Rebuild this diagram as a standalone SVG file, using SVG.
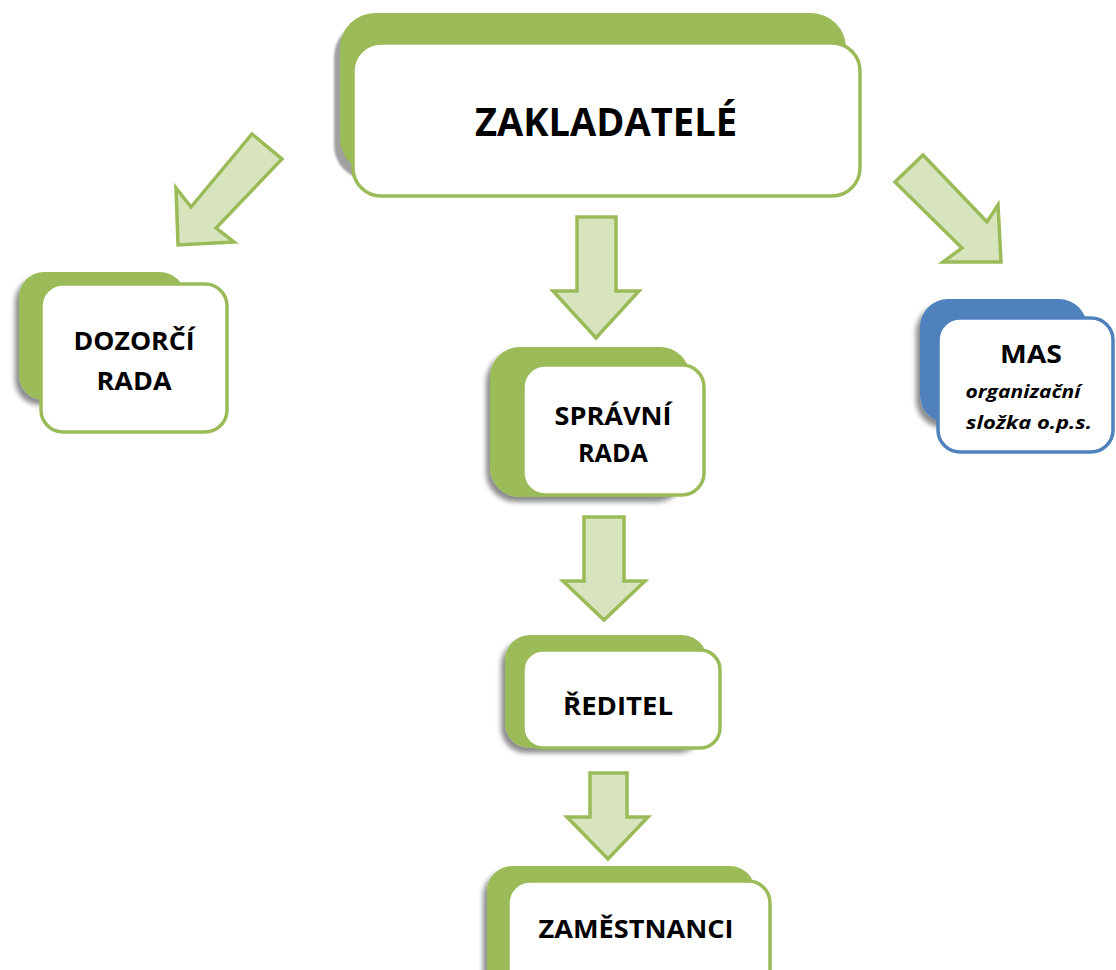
<svg xmlns="http://www.w3.org/2000/svg" width="1116" height="970" viewBox="0 0 1116 970">
<defs>
<filter id="sh" x="-20%" y="-20%" width="140%" height="150%">
<feDropShadow dx="-4" dy="5" stdDeviation="2.5" flood-color="#000" flood-opacity="0.45"/>
</filter>
<filter id="blur" x="-10%" y="-10%" width="120%" height="130%">
<feGaussianBlur stdDeviation="1"/>
</filter>
<style>
.back{fill:#9BBB59;filter:url(#sh)}
.backb{fill:#4F81BD;filter:url(#sh)}
.front{fill:#fff;stroke:#9BBB59;stroke-width:3.5}
.frontb{fill:#fff;stroke:#4F81BD;stroke-width:3.5}
.arrow{fill:#D7E4BD;stroke:#9BBB59;stroke-width:3.5;stroke-linejoin:miter}
.t{font-family:"Open Sans","Noto Sans","DejaVu Sans",sans-serif;font-weight:700;fill:#000}
.ti{font-family:"Open Sans","Noto Sans","DejaVu Sans",sans-serif;font-weight:700;font-style:italic;fill:#000}
</style>
</defs>
<rect width="1116" height="970" fill="#fff"/>
<g id="connectors">
<polygon class="arrow" points="252,134 282,159 216,228 234,242 178,245 176,188 191,207"/>
<polygon class="arrow" points="923,155 987,222 998,205 1001,262 943,262 962,248 895,182"/>
<polygon class="arrow" points="577,217 616,217 616,291 639,291 596,338 553,291 577,291"/>
<polygon class="arrow" points="584,517 624,517 624,581 645,581 604,620 563,581 584,581"/>
<polygon class="arrow" points="590,773 627,773 627,817 648,817 608,859 567,817 590,817"/>
</g>
<g id="zakladatele">
<rect x="334" y="22" width="506" height="158" rx="35" fill="#A0A0A0" filter="url(#blur)"/>
<rect x="340" y="13" width="506" height="160" rx="35" fill="#9BBB59"/>
<rect class="front" x="353" y="43" width="507" height="153" rx="28"/>
<text class="t" x="606" y="136" font-size="40" text-anchor="middle" textLength="262" lengthAdjust="spacingAndGlyphs">ZAKLADATELÉ</text>
</g>
<g id="dozorci">
<rect class="back" x="19" y="272" width="166" height="128" rx="25"/>
<rect class="front" x="41" y="284" width="186" height="148" rx="22"/>
<text class="t" x="134" y="350" font-size="25" text-anchor="middle" textLength="121" lengthAdjust="spacingAndGlyphs">DOZORČÍ</text>
<text class="t" x="134" y="390" font-size="25" text-anchor="middle" textLength="75" lengthAdjust="spacingAndGlyphs">RADA</text>
</g>
<g id="mas">
<rect class="backb" x="920" y="299" width="167" height="124" rx="28"/>
<rect class="frontb" x="938" y="318" width="175" height="134" rx="22"/>
<text class="t" x="1031" y="363" font-size="25" text-anchor="middle" textLength="62" lengthAdjust="spacingAndGlyphs">MAS</text>
<text class="ti" x="1023" y="398" font-size="18" text-anchor="middle" textLength="115" lengthAdjust="spacingAndGlyphs">organizační</text>
<text class="ti" x="1029" y="429" font-size="18" text-anchor="middle" textLength="126" lengthAdjust="spacingAndGlyphs">složka o.p.s.</text>
</g>
<g id="spravni">
<rect class="back" x="490" y="347" width="200" height="150" rx="30"/>
<rect class="front" x="523" y="365" width="181" height="130" rx="22"/>
<text class="t" x="613" y="425" font-size="25" text-anchor="middle" textLength="117" lengthAdjust="spacingAndGlyphs">SPRÁVNÍ</text>
<text class="t" x="613" y="462" font-size="25" text-anchor="middle" textLength="70" lengthAdjust="spacingAndGlyphs">RADA</text>
</g>
<g id="reditel">
<rect class="back" x="505" y="635" width="202" height="113" rx="25"/>
<rect class="front" x="523" y="650" width="197" height="98" rx="20"/>
<text class="t" x="618" y="715" font-size="25" text-anchor="middle" textLength="110" lengthAdjust="spacingAndGlyphs">ŘEDITEL</text>
</g>
<g id="zamestnanci">
<rect class="back" x="487" y="866" width="268" height="130" rx="25"/>
<rect class="front" x="508" y="881" width="262" height="110" rx="22"/>
<text class="t" x="636" y="938" font-size="25" text-anchor="middle" textLength="195" lengthAdjust="spacingAndGlyphs">ZAMĚSTNANCI</text>
</g>
</svg>
